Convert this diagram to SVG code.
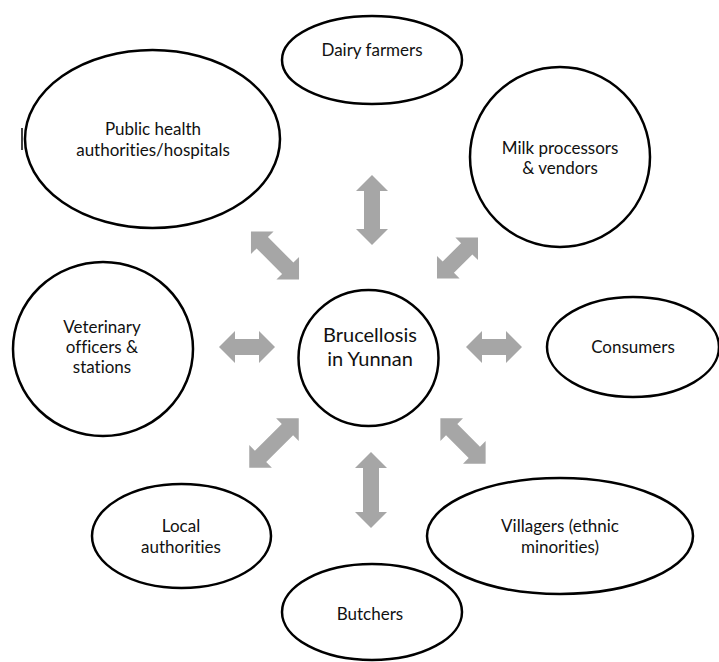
<svg xmlns="http://www.w3.org/2000/svg" width="719" height="662" viewBox="0 0 719 662">
<style>
.n{fill:#fff;stroke:#000;stroke-width:2.5}
.t{font-family:Lato,"Open Sans","Liberation Sans",sans-serif;font-size:17px;fill:#111;text-anchor:middle;font-variant-ligatures:none;font-feature-settings:"liga" 0}
.c{font-size:20px}
.a{fill:#a6a6a6}
</style>
<rect width="719" height="662" fill="#fff"/>
<g id="connectors">
<path class="a" transform="translate(372,210) rotate(90)" d="M-35 0L-19-16L-19-8L19-8L19-16L35 0L19 16L19 8L-19 8L-19 16Z"/>
<path class="a" transform="translate(371,490) rotate(90)" d="M-38 0L-22-16L-22-8L22-8L22-16L38 0L22 16L22 8L-22 8L-22 16Z"/>
<path class="a" d="M219 347L235 331L235 339L259 339L259 331L275 347L259 363L259 355L235 355L235 363Z"/>
<path class="a" d="M466 347L482 331L482 339L506 339L506 331L522 347L506 363L506 355L482 355L482 363Z"/>
<path class="a" transform="translate(275,255.5) rotate(45)" d="M-34 0L-18-16L-18-8L18-8L18-16L34 0L18 16L18 8L-18 8L-18 16Z"/>
<path class="a" transform="translate(457.5,258) rotate(-45)" d="M-29 0L-13-16L-13-8L13-8L13-16L29 0L13 16L13 8L-13 8L-13 16Z"/>
<path class="a" transform="translate(274,443) rotate(-45)" d="M-35 0L-19-16L-19-8L19-8L19-16L35 0L19 16L19 8L-19 8L-19 16Z"/>
<path class="a" transform="translate(463,441) rotate(45)" d="M-32 0L-16-16L-16-8L16-8L16-16L32 0L16 16L16 8L-16 8L-16 16Z"/>
</g>
<line x1="22" y1="128" x2="22" y2="150" stroke="#000" stroke-width="1.5"/>
<g id="center">
<ellipse class="n" cx="368.5" cy="358" rx="70" ry="68"/>
<text class="t c" x="370" y="342">Brucellosis</text>
<text class="t c" x="370" y="366">in Yunnan</text>
</g>
<g id="public-health">
<ellipse class="n" cx="152.5" cy="139" rx="127.5" ry="89"/>
<text class="t" x="153" y="135">Public health</text>
<text class="t" x="153" y="156">authorities/hospitals</text>
</g>
<g id="dairy">
<ellipse class="n" cx="372" cy="60" rx="90" ry="44"/>
<text class="t" x="372" y="56">Dairy farmers</text>
</g>
<g id="milk">
<ellipse class="n" cx="560" cy="157" rx="90" ry="90"/>
<text class="t" x="560" y="154">Milk processors</text>
<text class="t" x="560" y="174">&amp; vendors</text>
</g>
<g id="consumers">
<ellipse class="n" cx="633" cy="347" rx="86" ry="50"/>
<text class="t" x="633" y="353">Consumers</text>
</g>
<g id="veterinary">
<ellipse class="n" cx="103" cy="349" rx="90" ry="87"/>
<text class="t" x="102" y="333">Veterinary</text>
<text class="t" x="102" y="353">officers &amp;</text>
<text class="t" x="102" y="373">stations</text>
</g>
<g id="villagers">
<ellipse class="n" cx="560" cy="536" rx="133" ry="58"/>
<text class="t" x="560" y="532">Villagers (ethnic</text>
<text class="t" x="560" y="553">minorities)</text>
</g>
<g id="local">
<ellipse class="n" cx="181.5" cy="536" rx="89.5" ry="52"/>
<text class="t" x="181" y="532">Local</text>
<text class="t" x="181" y="553">authorities</text>
</g>
<g id="butchers">
<ellipse class="n" cx="372" cy="612" rx="90" ry="48"/>
<text class="t" x="370" y="620">Butchers</text>
</g>
</svg>
